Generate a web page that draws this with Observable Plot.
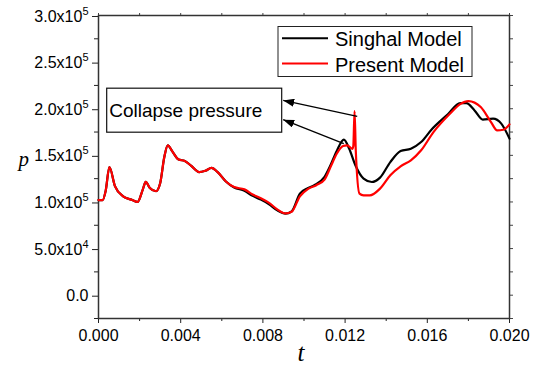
<!DOCTYPE html>
<html><head><meta charset="utf-8">
<script src="https://cdn.jsdelivr.net/npm/d3@7"></script>
<script src="https://cdn.jsdelivr.net/npm/@observablehq/plot@0.6"></script>
<style>body{margin:0;background:#fff}</style>
</head><body><div id="chart"></div>
<script>
// ---- data ----
const seriesNames = ["Singhal Model", "Present Model"];
const seriesColors = ["#000000", "#ff0000"];

const t_present = [0, 0.0002, 0.00035, 0.00053, 0.0008, 0.0012, 0.0016, 0.0019, 0.00215, 0.0023, 0.0025, 0.0028, 0.003, 0.0032, 0.00337, 0.0036, 0.0039, 0.0042, 0.0045, 0.0049, 0.0052, 0.0055, 0.0058, 0.0062, 0.0066, 0.0071, 0.0075, 0.0079, 0.0083, 0.0087, 0.0091, 0.0094, 0.0098, 0.0102, 0.0106, 0.011, 0.0113, 0.0116, 0.0119, 0.0121, 0.01235, 0.0124, 0.01246, 0.01252, 0.0127, 0.0129, 0.0132, 0.0137, 0.0142, 0.0147, 0.0152, 0.0157, 0.0163, 0.0171, 0.0176, 0.018, 0.0186, 0.0191, 0.0194, 0.0197, 0.02];
const p_present = [102000, 102000, 112000, 137500, 117000, 106000, 102500, 100000, 113000, 121500, 115000, 111500, 120000, 148000, 160800, 154000, 145500, 144000, 139000, 132000, 133500, 136500, 132000, 122000, 116000, 113500, 108000, 104000, 99000, 92000, 87700, 89500, 106000, 114000, 118000, 124000, 138000, 152000, 160000, 160700, 157000, 160000, 197500, 155000, 109000, 107100, 107000, 114300, 128600, 138200, 144600, 155400, 175000, 194700, 205000, 208200, 201800, 185700, 176800, 177500, 183200];

const t_singhal = [0, 0.0002, 0.00035, 0.00053, 0.0008, 0.0012, 0.0016, 0.0019, 0.00215, 0.0023, 0.0025, 0.0028, 0.003, 0.0032, 0.00337, 0.0036, 0.0039, 0.0042, 0.0045, 0.0049, 0.0052, 0.0055, 0.0058, 0.0062, 0.0066, 0.0071, 0.0075, 0.0079, 0.0083, 0.0087, 0.0091, 0.0094, 0.0098, 0.0102, 0.0105, 0.011, 0.0113, 0.0116, 0.01194, 0.0122, 0.0125, 0.0129, 0.0133, 0.0137, 0.0142, 0.0147, 0.0152, 0.0157, 0.0162, 0.017, 0.0176, 0.0179, 0.0183, 0.0187, 0.0192, 0.0196, 0.02];
const p_singhal = [102000, 102000, 112000, 137500, 117000, 106000, 102500, 100000, 113000, 121500, 115000, 111500, 120000, 148000, 160800, 154000, 145500, 144000, 139000, 132000, 133500, 136500, 132000, 122000, 115500, 112000, 106500, 102500, 97500, 91000, 87500, 90000, 109000, 115000, 118000, 127000, 140000, 155000, 166800, 157000, 139300, 125000, 121400, 126100, 142800, 154600, 157200, 164300, 177500, 194000, 206000, 206000, 198200, 188300, 189300, 184000, 167900];

const xMajorTicks = [0, 0.004, 0.008, 0.012, 0.016, 0.020];
const xMinorTicks = [0.002, 0.006, 0.010, 0.014, 0.018];
const yMajorTicks = [0, 50000, 100000, 150000, 200000, 250000, 300000];
const yMinorTicks = [-25000, 25000, 75000, 125000, 175000, 225000, 275000];

const annotationText = ["Collapse pressure"];
const annotationBox = [{x1: 0.000423, x2: 0.008939, y1: 174300, y2: 221500}];
const annotationLabelPos = [{t: 0.00052, p: 198200}];
const arrowStartT = [0.012589, 0.011937];
const arrowStartP = [191800, 162500];
const arrowEndT = [0.008988, 0.008988];
const arrowEndP = [208900, 188250];

// ---- build ----
const present = t_present.map((t, i) => ({t, p: p_present[i]}));
const singhal = t_singhal.map((t, i) => ({t, p: p_singhal[i]}));
const arrows = arrowStartT.map((t, i) => ({x1: t, y1: arrowStartP[i], x2: arrowEndT[i], y2: arrowEndP[i]}));

const fmtY = d => {
  if (d === 0) return "0.0";
  const e = Math.floor(Math.log10(Math.abs(d)) + 1e-9);
  const m = d / Math.pow(10, e);
  return m.toFixed(1) + "x10^" + e;
};

const font = "'Liberation Sans', Arial, sans-serif";
const serif = "'Liberation Serif', 'Times New Roman', serif";

const chart = Plot.plot({
  width: 538, height: 369,
  marginLeft: 98, marginRight: 29, marginTop: 15, marginBottom: 51,
  style: {fontFamily: font, fontSize: "16px", background: "white", color: "#000", overflow: "visible"},
  x: {domain: [0, 0.02]},
  y: {domain: [-25000, 300000]},
  marks: [
    Plot.axisX(xMajorTicks, {anchor: "bottom", tickSize: 5, tickPadding: 6, tickFormat: d => d.toFixed(3), label: null, fontSize: 16, stroke: "#222"}),
    Plot.axisX(xMinorTicks, {anchor: "bottom", tickSize: 3, tickFormat: () => "", label: null, stroke: "#222"}),
    Plot.axisX(xMajorTicks.concat(xMinorTicks), {anchor: "top", tickSize: 3, tickFormat: () => "", label: null, stroke: "#444"}),
    Plot.axisY(yMajorTicks, {anchor: "left", tickSize: 6, tickPadding: 4, tickFormat: fmtY, label: null, fontSize: 16, stroke: "#222", dy: 1}),
    Plot.axisY(yMinorTicks, {anchor: "left", tickSize: 4, tickFormat: () => "", label: null, stroke: "#222"}),
    Plot.axisY(yMajorTicks.concat(yMinorTicks), {anchor: "right", tickSize: 3, tickFormat: () => "", label: null, stroke: "#444"}),
    Plot.frame({stroke: "#333", strokeWidth: 1.5}),
    Plot.rect(annotationBox, {x1: "x1", x2: "x2", y1: "y1", y2: "y2", fill: "white", stroke: "#111", strokeWidth: 1.2}),
    Plot.text(annotationLabelPos, {x: "t", y: "p", text: () => annotationText[0], textAnchor: "start", fontSize: 19, fill: "#000"}),
    Plot.line(singhal, {x: "t", y: "p", stroke: seriesColors[0], strokeWidth: 2.2, curve: "monotone-x"}),
    Plot.line(present, {x: "t", y: "p", stroke: seriesColors[1], strokeWidth: 2.2, curve: "monotone-x"}),
    Plot.link(arrows, {x1: "x1", y1: "y1", x2: "x2", y2: "y2", stroke: "#000", strokeWidth: 1.3, markerEnd: "arrow"}),
    Plot.text(["p"], {frameAnchor: "left", dx: -80, dy: -8, fontFamily: serif, fontStyle: "italic", fontSize: 21, fill: "#000"}),
    Plot.text(["t"], {frameAnchor: "bottom", dx: -3, dy: 42, fontFamily: serif, fontStyle: "italic", fontSize: 25, fill: "#000"})
  ]
});

const ns = "http://www.w3.org/2000/svg";
// superscripts for y tick labels
chart.querySelectorAll("text").forEach(el => {
  const m = el.textContent.match(/^(.*x10)\^(\d+)$/);
  if (m) {
    el.textContent = m[1];
    const ts = document.createElementNS(ns, "tspan");
    ts.setAttribute("dy", "-7");
    ts.setAttribute("font-size", "11");
    ts.textContent = m[2];
    el.appendChild(ts);
  }
});

// filled triangular arrowheads (replace Plot's chevron markers)
chart.querySelectorAll("marker").forEach(mk => {
  mk.setAttribute("viewBox", "0 0 11 8");
  mk.setAttribute("refX", "11");
  mk.setAttribute("refY", "4");
  mk.setAttribute("markerWidth", "11");
  mk.setAttribute("markerHeight", "8");
  mk.setAttribute("markerUnits", "userSpaceOnUse");
  mk.setAttribute("orient", "auto");
  mk.setAttribute("fill", "#000");
  mk.setAttribute("stroke", "none");
  mk.innerHTML = '<path d="M0,0L11,4L0,8z" fill="#000" stroke="none"/>';
});

// legend (inside frame, top right)
const lg = document.createElementNS(ns, "g");
lg.setAttribute("font-family", font);
lg.setAttribute("font-size", "20");
lg.setAttribute("text-anchor", "start");
let html = '<rect x="278" y="26.5" width="194" height="50" fill="white" stroke="#222" stroke-width="1"/>';
const rowY = [38.3, 63.5];
seriesNames.forEach((name, i) => {
  html += `<line x1="282" x2="328" y1="${rowY[i]}" y2="${rowY[i]}" stroke="${seriesColors[i]}" stroke-width="2"/>`;
  html += `<text x="335" y="${rowY[i] + 8}" fill="#000" text-anchor="start">${name}</text>`;
});
lg.innerHTML = html;
chart.appendChild(lg);

document.getElementById("chart").appendChild(chart);
</script></body></html>
